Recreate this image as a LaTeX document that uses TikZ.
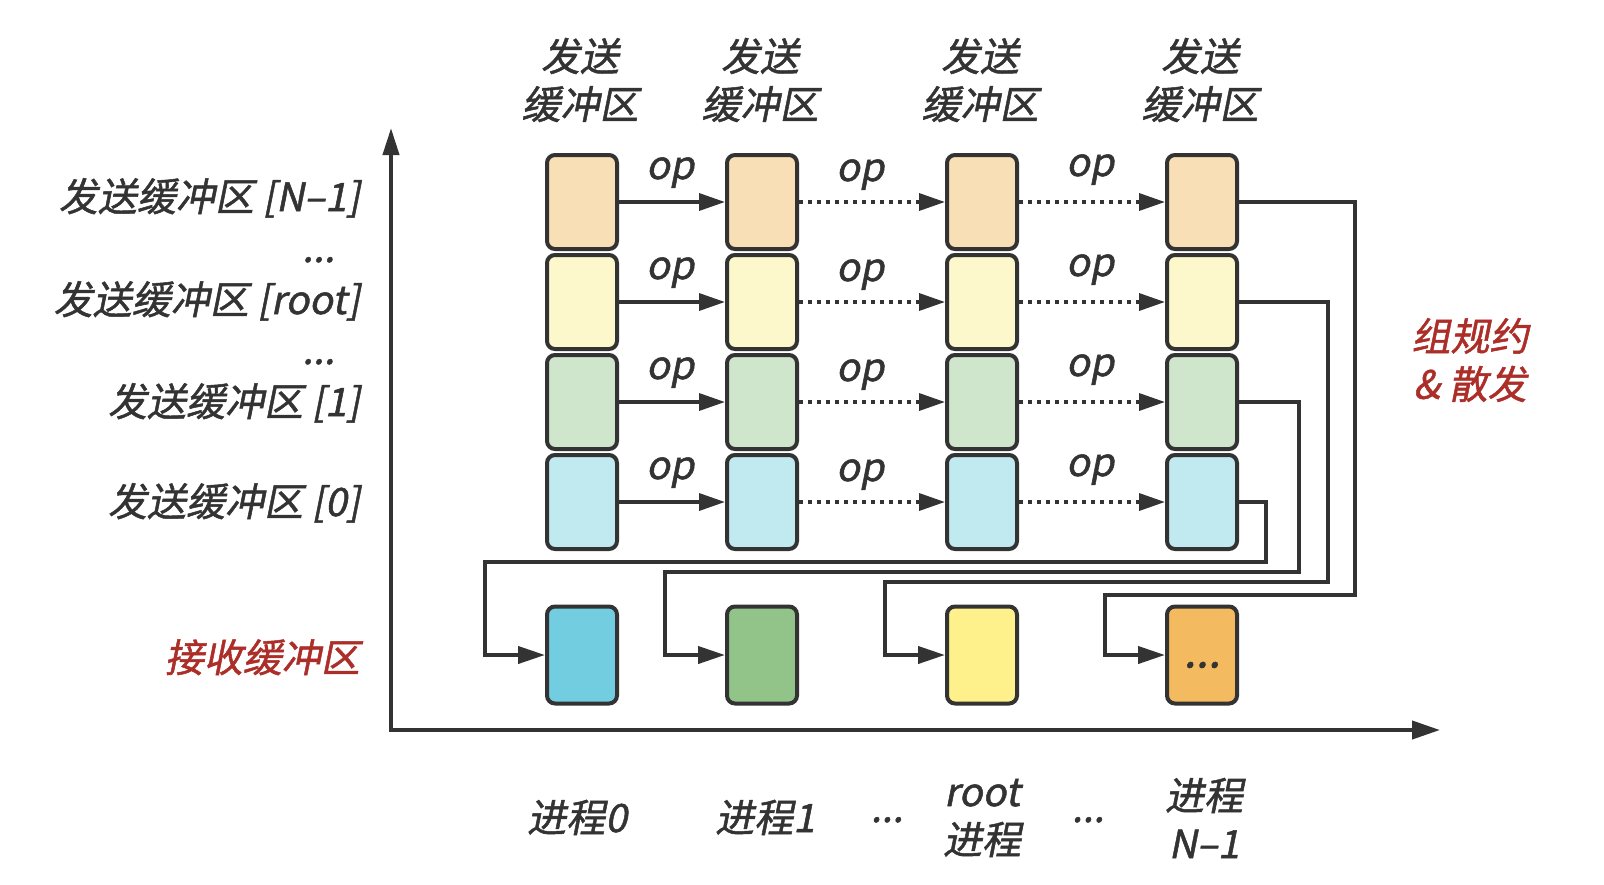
\documentclass[tikz,border=0pt]{standalone}
\usepackage{fontspec}
\setmainfont{Noto Sans CJK SC}[FakeSlant=0.2,FakeBold=1.3]
\usetikzlibrary{arrows.meta}
\definecolor{lc}{HTML}{333333}
\definecolor{tc}{HTML}{333333}
\definecolor{redc}{RGB}{172,46,40}
\definecolor{cA}{HTML}{F9DFB6}
\definecolor{cB}{HTML}{FDF8CC}
\definecolor{cC}{HTML}{D0E6CC}
\definecolor{cD}{HTML}{C0E9F0}
\definecolor{rA}{HTML}{72CDE0}
\definecolor{rB}{HTML}{92C48A}
\definecolor{rC}{HTML}{FEF08A}
\definecolor{rD}{HTML}{F4BA60}
\tikzset{
  sbox/.style={draw=lc, line width=4pt, rounded corners=8pt, minimum width=70pt, minimum height=94pt, inner sep=0pt},
  rbox/.style={draw=lc, line width=4pt, rounded corners=8pt, minimum width=70pt, minimum height=97pt, inner sep=0pt},
  flow/.style={draw=lc, line width=3.5pt, -{Triangle[length=26pt,width=17pt]}},
  dflow/.style={flow, dash pattern=on 4pt off 5pt},
  route/.style={draw=lc, line width=4pt, -{Triangle[length=27pt,width=17pt]}},
  axis/.style={draw=lc, line width=4pt},
  lbl/.style={text=tc, font=\fontsize{39}{48}\selectfont, inner sep=0pt},
  redlbl/.style={text=redc, font=\fontsize{39}{48}\selectfont, inner sep=0pt},
}
\begin{document}
\begin{tikzpicture}[x=1pt,y=-1pt]
\useasboundingbox (0,0) rectangle (1604,884);
% axes
\coordinate (O) at (391,730);
\coordinate (Ytop) at (391,128);
\coordinate (Xend) at (1440,730);
\draw[axis, {Triangle[length=27pt,width=16pt]}-{Triangle[length=28pt,width=18pt]}] (Ytop) -- (O) -- (Xend);
% send buffers
\foreach \c/\x in {1/582,2/762,3/982,4/1202} {
  \node[sbox, fill=cA] (s-\c-a) at (\x,202) {};
  \node[sbox, fill=cB] (s-\c-b) at (\x,302) {};
  \node[sbox, fill=cC] (s-\c-c) at (\x,402) {};
  \node[sbox, fill=cD] (s-\c-d) at (\x,502) {};
}
% receive buffers
\node[rbox, fill=rA] (r-1) at (582,655) {};
\node[rbox, fill=rB] (r-2) at (762,655) {};
\node[rbox, fill=rC] (r-3) at (982,655) {};
\node[rbox, fill=rD] (r-4) at (1202,655) {};
\node[lbl, font=\fontsize{44}{48}\selectfont] (dots-r) at ([yshift=-10pt]r-4.center) {...};
% row arrows and op labels
\foreach \r/\i in {a/0,b/1,c/2,d/3} {
  \draw[flow] (s-1-\r.east) -- (s-2-\r.west);
  \draw[dflow] (s-2-\r.east) -- (s-3-\r.west);
  \draw[dflow] (s-3-\r.east) -- (s-4-\r.west);
  \node[lbl, anchor=base] (op-1-\r) at (670,{179+100*\i}) {op};
  \node[lbl, anchor=base] (op-2-\r) at (860,{181+100*\i}) {op};
  \node[lbl, anchor=base] (op-3-\r) at (1090,{176+100*\i}) {op};
}
% routing
\draw[route] (s-4-d.east) -| (1266,562) -| ([xshift=-60pt]r-1.west) -- (r-1.west);
\draw[route] (s-4-c.east) -| (1299,572) -| ([xshift=-60pt]r-2.west) -- (r-2.west);
\draw[route] (s-4-b.east) -| (1328,582) -| ([xshift=-60pt]r-3.west) -- (r-3.west);
\draw[route] (s-4-a.east) -| (1355,595) -| ([xshift=-60pt]r-4.west) -- (r-4.west);
% top labels
\foreach \c/\x in {1/580,2/760,3/980,4/1200} {
  \node[lbl, align=center] (top-\c) at (\x,80) {发送\\缓冲区};
}
% left labels
\node[lbl, anchor=base east] (l-a) at (360,211) {发送缓冲区 [N–1]};
\node[lbl, anchor=base east] (l-ab) at (335,262) {...};
\node[lbl, anchor=base east] (l-b) at (360,314) {发送缓冲区 [root]};
\node[lbl, anchor=base east] (l-bc) at (335,364) {...};
\node[lbl, anchor=base east] (l-c) at (360,416) {发送缓冲区 [1]};
\node[lbl, anchor=base east] (l-d) at (360,516) {发送缓冲区 [0]};
\node[redlbl, anchor=base east] (recv) at (360,672) {接收缓冲区};
% right label
\node[redlbl, align=center] (op-name) at (1470,360) {组规约\\\& 散发};
% bottom labels
\node[lbl, anchor=base] (p0) at (577,832) {进程0};
\node[lbl, anchor=base] (p1) at (765,832) {进程1};
\node[lbl, anchor=base] (pd1) at (887,822) {...};
\node[lbl, align=center] (proot) at (982,818) {root\\进程};
\node[lbl, anchor=base] (pd2) at (1088,822) {...};
\node[lbl, align=center] (pn) at (1204,818) {进程\\N–1};
\end{tikzpicture}
\end{document}
